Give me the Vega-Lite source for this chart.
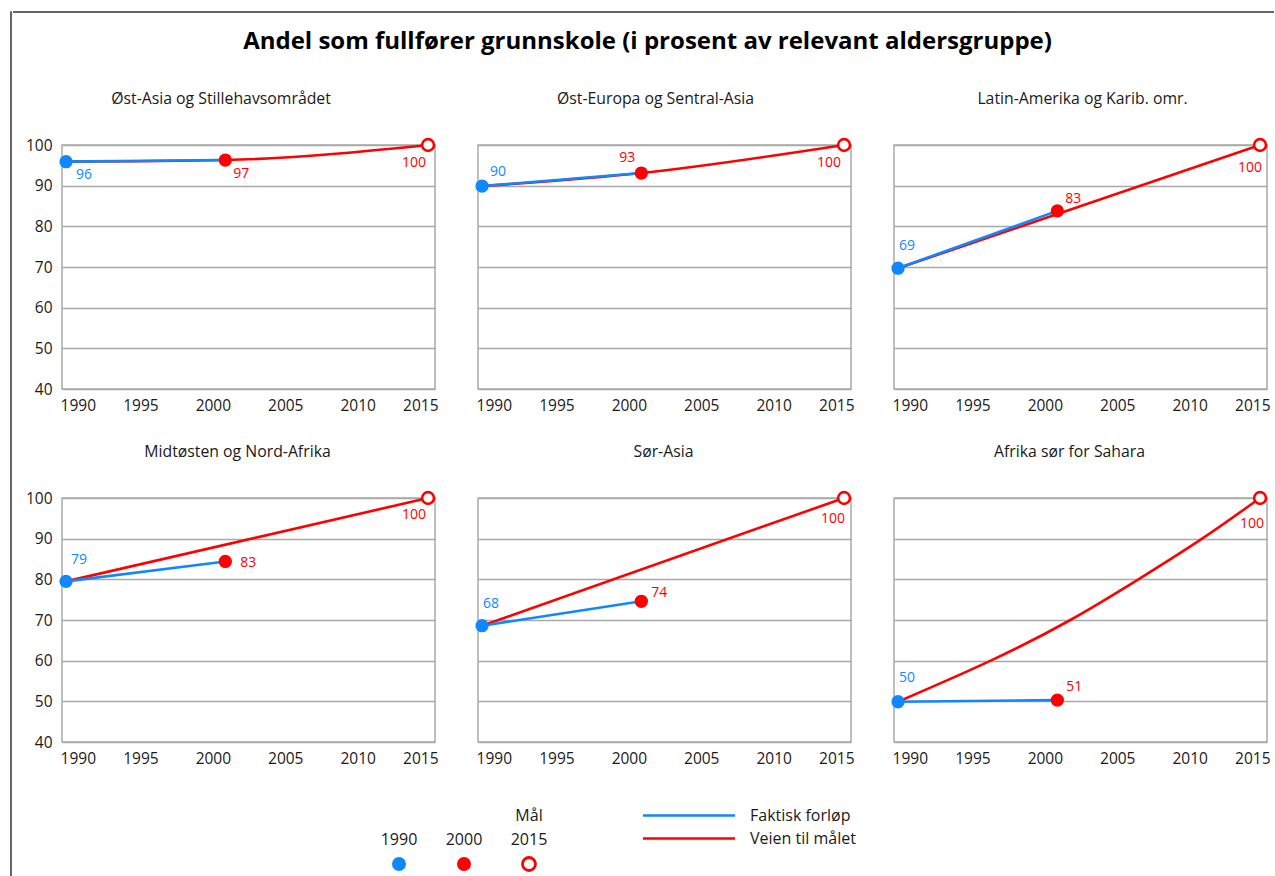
{
"$schema": "https://vega.github.io/schema/vega-lite/v6.json",
"background": "white",
"padding": {"left": 10, "top": 11, "right": 0, "bottom": 0},
"datasets": {
"punkter": [
{"region":"Øst-Asia og Stillehavsområdet","kind":"1990","year":1990,"v":95.9,"lab":"96"},
{"region":"Øst-Asia og Stillehavsområdet","kind":"2000","year":2001,"v":96.3,"lab":"97"},
{"region":"Øst-Asia og Stillehavsområdet","kind":"2015","year":2015,"v":100,"lab":"100"},
{"region":"Øst-Europa og Sentral-Asia","kind":"1990","year":1990,"v":89.9,"lab":"90"},
{"region":"Øst-Europa og Sentral-Asia","kind":"2000","year":2001,"v":93.1,"lab":"93"},
{"region":"Øst-Europa og Sentral-Asia","kind":"2015","year":2015,"v":100,"lab":"100"},
{"region":"Latin-Amerika og Karib. omr.","kind":"1990","year":1990,"v":69.7,"lab":"69"},
{"region":"Latin-Amerika og Karib. omr.","kind":"2000","year":2001,"v":83.8,"lab":"83"},
{"region":"Latin-Amerika og Karib. omr.","kind":"2015","year":2015,"v":100,"lab":"100"},
{"region":"Midtøsten og Nord-Afrika","kind":"1990","year":1990,"v":79.5,"lab":"79"},
{"region":"Midtøsten og Nord-Afrika","kind":"2000","year":2001,"v":84.4,"lab":"83"},
{"region":"Midtøsten og Nord-Afrika","kind":"2015","year":2015,"v":100,"lab":"100"},
{"region":"Sør-Asia","kind":"1990","year":1990,"v":68.6,"lab":"68"},
{"region":"Sør-Asia","kind":"2000","year":2001,"v":74.6,"lab":"74"},
{"region":"Sør-Asia","kind":"2015","year":2015,"v":100,"lab":"100"},
{"region":"Afrika sør for Sahara","kind":"1990","year":1990,"v":49.9,"lab":"50"},
{"region":"Afrika sør for Sahara","kind":"2000","year":2001,"v":50.3,"lab":"51"},
{"region":"Afrika sør for Sahara","kind":"2015","year":2015,"v":100,"lab":"100"}
],
"linjer": [
{"region":"Øst-Asia og Stillehavsområdet","serie":"Faktisk forløp","year":1990,"v":95.9},
{"region":"Øst-Asia og Stillehavsområdet","serie":"Faktisk forløp","year":2001,"v":96.3},
{"region":"Øst-Asia og Stillehavsområdet","serie":"Veien til målet","year":1990,"v":95.9},
{"region":"Øst-Asia og Stillehavsområdet","serie":"Veien til målet","year":2001,"v":96.3},
{"region":"Øst-Asia og Stillehavsområdet","serie":"Veien til målet","year":2015,"v":100},
{"region":"Øst-Europa og Sentral-Asia","serie":"Faktisk forløp","year":1990,"v":89.9},
{"region":"Øst-Europa og Sentral-Asia","serie":"Faktisk forløp","year":2001,"v":93.1},
{"region":"Øst-Europa og Sentral-Asia","serie":"Veien til målet","year":1990,"v":89.9},
{"region":"Øst-Europa og Sentral-Asia","serie":"Veien til målet","year":2001,"v":93.1},
{"region":"Øst-Europa og Sentral-Asia","serie":"Veien til målet","year":2015,"v":100},
{"region":"Latin-Amerika og Karib. omr.","serie":"Faktisk forløp","year":1990,"v":69.7},
{"region":"Latin-Amerika og Karib. omr.","serie":"Faktisk forløp","year":2001,"v":83.8},
{"region":"Latin-Amerika og Karib. omr.","serie":"Veien til målet","year":1990,"v":69.7},
{"region":"Latin-Amerika og Karib. omr.","serie":"Veien til målet","year":2015,"v":100},
{"region":"Midtøsten og Nord-Afrika","serie":"Faktisk forløp","year":1990,"v":79.5},
{"region":"Midtøsten og Nord-Afrika","serie":"Faktisk forløp","year":2001,"v":84.4},
{"region":"Midtøsten og Nord-Afrika","serie":"Veien til målet","year":1990,"v":79.5},
{"region":"Midtøsten og Nord-Afrika","serie":"Veien til målet","year":2015,"v":100},
{"region":"Sør-Asia","serie":"Faktisk forløp","year":1990,"v":68.6},
{"region":"Sør-Asia","serie":"Faktisk forløp","year":2001,"v":74.6},
{"region":"Sør-Asia","serie":"Veien til målet","year":1990,"v":68.6},
{"region":"Sør-Asia","serie":"Veien til målet","year":2015,"v":100},
{"region":"Afrika sør for Sahara","serie":"Faktisk forløp","year":1990,"v":49.9},
{"region":"Afrika sør for Sahara","serie":"Faktisk forløp","year":2001,"v":50.3},
{"region":"Afrika sør for Sahara","serie":"Veien til målet","year":1990,"v":49.9},
{"region":"Afrika sør for Sahara","serie":"Veien til målet","year":1996.4,"v":60},
{"region":"Afrika sør for Sahara","serie":"Veien til målet","year":2001.9,"v":70},
{"region":"Afrika sør for Sahara","serie":"Veien til målet","year":2006.6,"v":80},
{"region":"Afrika sør for Sahara","serie":"Veien til målet","year":2011,"v":90},
{"region":"Afrika sør for Sahara","serie":"Veien til målet","year":2015,"v":100}
],
"legpkt": [{"kind":"1990"},{"kind":"2000"},{"kind":"2015"}],
"serier": [{"serie":"Faktisk forløp"},{"serie":"Veien til målet"}]
},
"spacing": 0,
"hconcat": [
{"width": 0.01, "height": 864, "data": {"values": []}, "mark": {"type": "point", "opacity": 0}, "encoding": {}, "view": {"stroke": "#333333", "strokeWidth": 1.5}},
{"spacing": 35, "vconcat": [
{"spacing": 0, "vconcat": [
{"width": 1261, "height": 17, "data": {"values": []}, "mark": {"type": "point", "opacity": 0}, "encoding": {}, "view": {"stroke": "#333333", "strokeWidth": 1.5, "strokeDash": [1261, 5000]}},
{"width": 1261, "height": 0.01, "data": {"values": []}, "mark": {"type": "point", "opacity": 0}, "encoding": {}, "view": {"stroke": null},
 "title": {"text": "Andel som fullfører grunnskole (i prosent av relevant aldersgruppe)", "orient": "bottom", "fontSize": 24, "fontWeight": "bold", "color": "#000000", "offset": 0, "dx": 4}}
]},
{"spacing": 10, "hconcat": [
{"width": 0.01, "height": 0.01, "data": {"values": []}, "mark": {"type": "point", "opacity": 0}, "encoding": {}, "view": {"stroke": "#ffffff", "strokeWidth": 1}},
{"spacing": 36, "vconcat": [
{"spacing": 28, "vconcat": [
{"spacing": 34, "hconcat": [
{"width": 373, "height": 244, "title": {"text": "Øst-Asia og Stillehavsområdet", "dx": -27.5},
 "encoding": {"x": {"field": "year", "type": "quantitative", "scale": {"domain": [1989.72, 2015.48], "nice": false, "zero": false}, "axis": {"values": [1990,1995,2000,2005,2010,2015], "format": "d", "title": null}},
  "y": {"field": "v", "type": "quantitative", "scale": {"domain": [40, 100], "nice": false, "zero": false}, "axis": {"values": [40,50,60,70,80,90,100], "title": null, "labels": true}}},
 "layer": [
  {"data": {"name": "linjer"}, "transform": [{"filter": {"and": [{"field": "region", "equal": "Øst-Asia og Stillehavsområdet"}, {"field": "serie", "equal": "Veien til målet"}]}}], "mark": {"type": "line", "color": "#ff0000", "strokeWidth": 2.6, "interpolate": "monotone"}},
  {"data": {"name": "linjer"}, "transform": [{"filter": {"and": [{"field": "region", "equal": "Øst-Asia og Stillehavsområdet"}, {"field": "serie", "equal": "Faktisk forløp"}]}}], "mark": {"type": "line", "color": "#0f87ff", "strokeWidth": 2.6}},
  {"data": {"name": "punkter"}, "transform": [{"filter": {"and": [{"field": "region", "equal": "Øst-Asia og Stillehavsområdet"}, {"field": "kind", "oneOf": ["1990","2000"]}]}}], "mark": {"type": "point", "filled": true, "size": 177, "opacity": 1}, "encoding": {"color": {"field": "kind", "type": "nominal", "scale": {"domain": ["1990","2000","2015"], "range": ["#0f87ff","#ff0000","#ff0000"]}, "legend": null}}},
  {"data": {"name": "punkter"}, "transform": [{"filter": {"and": [{"field": "region", "equal": "Øst-Asia og Stillehavsområdet"}, {"field": "kind", "equal": "2015"}]}}], "mark": {"type": "point", "filled": true, "fill": "#ffffff", "stroke": "#ff0000", "strokeWidth": 2.6, "size": 140, "opacity": 1}},
  {"data": {"name": "punkter"}, "transform": [{"filter": {"and": [{"field": "region", "equal": "Øst-Asia og Stillehavsområdet"}, {"field": "kind", "equal": "1990"}]}}], "mark": {"type": "text", "dx": 18, "dy": 13, "color": "#0f87ff", "fontSize": 14}, "encoding": {"text": {"field": "lab"}}},
  {"data": {"name": "punkter"}, "transform": [{"filter": {"and": [{"field": "region", "equal": "Øst-Asia og Stillehavsområdet"}, {"field": "kind", "equal": "2000"}]}}], "mark": {"type": "text", "dx": 16, "dy": 14, "color": "#ff0000", "fontSize": 14}, "encoding": {"text": {"field": "lab"}}},
  {"data": {"name": "punkter"}, "transform": [{"filter": {"and": [{"field": "region", "equal": "Øst-Asia og Stillehavsområdet"}, {"field": "kind", "equal": "2015"}]}}], "mark": {"type": "text", "dx": -14, "dy": 18, "color": "#ff0000", "fontSize": 14}, "encoding": {"text": {"field": "lab"}}}
 ]},
{"width": 373, "height": 244, "title": {"text": "Øst-Europa og Sentral-Asia", "dx": -9},
 "encoding": {"x": {"field": "year", "type": "quantitative", "scale": {"domain": [1989.72, 2015.48], "nice": false, "zero": false}, "axis": {"values": [1990,1995,2000,2005,2010,2015], "format": "d", "title": null}},
  "y": {"field": "v", "type": "quantitative", "scale": {"domain": [40, 100], "nice": false, "zero": false}, "axis": {"values": [40,50,60,70,80,90,100], "title": null, "labels": false}}},
 "layer": [
  {"data": {"name": "linjer"}, "transform": [{"filter": {"and": [{"field": "region", "equal": "Øst-Europa og Sentral-Asia"}, {"field": "serie", "equal": "Veien til målet"}]}}], "mark": {"type": "line", "color": "#ff0000", "strokeWidth": 2.6, "interpolate": "monotone"}},
  {"data": {"name": "linjer"}, "transform": [{"filter": {"and": [{"field": "region", "equal": "Øst-Europa og Sentral-Asia"}, {"field": "serie", "equal": "Faktisk forløp"}]}}], "mark": {"type": "line", "color": "#0f87ff", "strokeWidth": 2.6}},
  {"data": {"name": "punkter"}, "transform": [{"filter": {"and": [{"field": "region", "equal": "Øst-Europa og Sentral-Asia"}, {"field": "kind", "oneOf": ["1990","2000"]}]}}], "mark": {"type": "point", "filled": true, "size": 177, "opacity": 1}, "encoding": {"color": {"field": "kind", "type": "nominal", "scale": {"domain": ["1990","2000","2015"], "range": ["#0f87ff","#ff0000","#ff0000"]}, "legend": null}}},
  {"data": {"name": "punkter"}, "transform": [{"filter": {"and": [{"field": "region", "equal": "Øst-Europa og Sentral-Asia"}, {"field": "kind", "equal": "2015"}]}}], "mark": {"type": "point", "filled": true, "fill": "#ffffff", "stroke": "#ff0000", "strokeWidth": 2.6, "size": 140, "opacity": 1}},
  {"data": {"name": "punkter"}, "transform": [{"filter": {"and": [{"field": "region", "equal": "Øst-Europa og Sentral-Asia"}, {"field": "kind", "equal": "1990"}]}}], "mark": {"type": "text", "dx": 16, "dy": -14, "color": "#0f87ff", "fontSize": 14}, "encoding": {"text": {"field": "lab"}}},
  {"data": {"name": "punkter"}, "transform": [{"filter": {"and": [{"field": "region", "equal": "Øst-Europa og Sentral-Asia"}, {"field": "kind", "equal": "2000"}]}}], "mark": {"type": "text", "dx": -14, "dy": -15, "color": "#ff0000", "fontSize": 14}, "encoding": {"text": {"field": "lab"}}},
  {"data": {"name": "punkter"}, "transform": [{"filter": {"and": [{"field": "region", "equal": "Øst-Europa og Sentral-Asia"}, {"field": "kind", "equal": "2015"}]}}], "mark": {"type": "text", "dx": -15, "dy": 18, "color": "#ff0000", "fontSize": 14}, "encoding": {"text": {"field": "lab"}}}
 ]},
{"width": 373, "height": 244, "title": {"text": "Latin-Amerika og Karib. omr.", "dx": 2},
 "encoding": {"x": {"field": "year", "type": "quantitative", "scale": {"domain": [1989.72, 2015.48], "nice": false, "zero": false}, "axis": {"values": [1990,1995,2000,2005,2010,2015], "format": "d", "title": null}},
  "y": {"field": "v", "type": "quantitative", "scale": {"domain": [40, 100], "nice": false, "zero": false}, "axis": {"values": [40,50,60,70,80,90,100], "title": null, "labels": false}}},
 "layer": [
  {"data": {"name": "linjer"}, "transform": [{"filter": {"and": [{"field": "region", "equal": "Latin-Amerika og Karib. omr."}, {"field": "serie", "equal": "Veien til målet"}]}}], "mark": {"type": "line", "color": "#ff0000", "strokeWidth": 2.6, "interpolate": "monotone"}},
  {"data": {"name": "linjer"}, "transform": [{"filter": {"and": [{"field": "region", "equal": "Latin-Amerika og Karib. omr."}, {"field": "serie", "equal": "Faktisk forløp"}]}}], "mark": {"type": "line", "color": "#0f87ff", "strokeWidth": 2.6}},
  {"data": {"name": "punkter"}, "transform": [{"filter": {"and": [{"field": "region", "equal": "Latin-Amerika og Karib. omr."}, {"field": "kind", "oneOf": ["1990","2000"]}]}}], "mark": {"type": "point", "filled": true, "size": 177, "opacity": 1}, "encoding": {"color": {"field": "kind", "type": "nominal", "scale": {"domain": ["1990","2000","2015"], "range": ["#0f87ff","#ff0000","#ff0000"]}, "legend": null}}},
  {"data": {"name": "punkter"}, "transform": [{"filter": {"and": [{"field": "region", "equal": "Latin-Amerika og Karib. omr."}, {"field": "kind", "equal": "2015"}]}}], "mark": {"type": "point", "filled": true, "fill": "#ffffff", "stroke": "#ff0000", "strokeWidth": 2.6, "size": 140, "opacity": 1}},
  {"data": {"name": "punkter"}, "transform": [{"filter": {"and": [{"field": "region", "equal": "Latin-Amerika og Karib. omr."}, {"field": "kind", "equal": "1990"}]}}], "mark": {"type": "text", "dx": 9, "dy": -22, "color": "#0f87ff", "fontSize": 14}, "encoding": {"text": {"field": "lab"}}},
  {"data": {"name": "punkter"}, "transform": [{"filter": {"and": [{"field": "region", "equal": "Latin-Amerika og Karib. omr."}, {"field": "kind", "equal": "2000"}]}}], "mark": {"type": "text", "dx": 16, "dy": -12, "color": "#ff0000", "fontSize": 14}, "encoding": {"text": {"field": "lab"}}},
  {"data": {"name": "punkter"}, "transform": [{"filter": {"and": [{"field": "region", "equal": "Latin-Amerika og Karib. omr."}, {"field": "kind", "equal": "2015"}]}}], "mark": {"type": "text", "dx": -10, "dy": 23, "color": "#ff0000", "fontSize": 14}, "encoding": {"text": {"field": "lab"}}}
 ]}
]},
{"spacing": 34, "hconcat": [
{"width": 373, "height": 244, "title": {"text": "Midtøsten og Nord-Afrika", "dx": -11},
 "encoding": {"x": {"field": "year", "type": "quantitative", "scale": {"domain": [1989.72, 2015.48], "nice": false, "zero": false}, "axis": {"values": [1990,1995,2000,2005,2010,2015], "format": "d", "title": null}},
  "y": {"field": "v", "type": "quantitative", "scale": {"domain": [40, 100], "nice": false, "zero": false}, "axis": {"values": [40,50,60,70,80,90,100], "title": null, "labels": true}}},
 "layer": [
  {"data": {"name": "linjer"}, "transform": [{"filter": {"and": [{"field": "region", "equal": "Midtøsten og Nord-Afrika"}, {"field": "serie", "equal": "Veien til målet"}]}}], "mark": {"type": "line", "color": "#ff0000", "strokeWidth": 2.6, "interpolate": "monotone"}},
  {"data": {"name": "linjer"}, "transform": [{"filter": {"and": [{"field": "region", "equal": "Midtøsten og Nord-Afrika"}, {"field": "serie", "equal": "Faktisk forløp"}]}}], "mark": {"type": "line", "color": "#0f87ff", "strokeWidth": 2.6}},
  {"data": {"name": "punkter"}, "transform": [{"filter": {"and": [{"field": "region", "equal": "Midtøsten og Nord-Afrika"}, {"field": "kind", "oneOf": ["1990","2000"]}]}}], "mark": {"type": "point", "filled": true, "size": 177, "opacity": 1}, "encoding": {"color": {"field": "kind", "type": "nominal", "scale": {"domain": ["1990","2000","2015"], "range": ["#0f87ff","#ff0000","#ff0000"]}, "legend": null}}},
  {"data": {"name": "punkter"}, "transform": [{"filter": {"and": [{"field": "region", "equal": "Midtøsten og Nord-Afrika"}, {"field": "kind", "equal": "2015"}]}}], "mark": {"type": "point", "filled": true, "fill": "#ffffff", "stroke": "#ff0000", "strokeWidth": 2.6, "size": 140, "opacity": 1}},
  {"data": {"name": "punkter"}, "transform": [{"filter": {"and": [{"field": "region", "equal": "Midtøsten og Nord-Afrika"}, {"field": "kind", "equal": "1990"}]}}], "mark": {"type": "text", "dx": 13, "dy": -21, "color": "#0f87ff", "fontSize": 14}, "encoding": {"text": {"field": "lab"}}},
  {"data": {"name": "punkter"}, "transform": [{"filter": {"and": [{"field": "region", "equal": "Midtøsten og Nord-Afrika"}, {"field": "kind", "equal": "2000"}]}}], "mark": {"type": "text", "dx": 23, "dy": 2, "color": "#ff0000", "fontSize": 14}, "encoding": {"text": {"field": "lab"}}},
  {"data": {"name": "punkter"}, "transform": [{"filter": {"and": [{"field": "region", "equal": "Midtøsten og Nord-Afrika"}, {"field": "kind", "equal": "2015"}]}}], "mark": {"type": "text", "dx": -14, "dy": 17, "color": "#ff0000", "fontSize": 14}, "encoding": {"text": {"field": "lab"}}}
 ]},
{"width": 373, "height": 244, "title": {"text": "Sør-Asia", "dx": -1},
 "encoding": {"x": {"field": "year", "type": "quantitative", "scale": {"domain": [1989.72, 2015.48], "nice": false, "zero": false}, "axis": {"values": [1990,1995,2000,2005,2010,2015], "format": "d", "title": null}},
  "y": {"field": "v", "type": "quantitative", "scale": {"domain": [40, 100], "nice": false, "zero": false}, "axis": {"values": [40,50,60,70,80,90,100], "title": null, "labels": false}}},
 "layer": [
  {"data": {"name": "linjer"}, "transform": [{"filter": {"and": [{"field": "region", "equal": "Sør-Asia"}, {"field": "serie", "equal": "Veien til målet"}]}}], "mark": {"type": "line", "color": "#ff0000", "strokeWidth": 2.6, "interpolate": "monotone"}},
  {"data": {"name": "linjer"}, "transform": [{"filter": {"and": [{"field": "region", "equal": "Sør-Asia"}, {"field": "serie", "equal": "Faktisk forløp"}]}}], "mark": {"type": "line", "color": "#0f87ff", "strokeWidth": 2.6}},
  {"data": {"name": "punkter"}, "transform": [{"filter": {"and": [{"field": "region", "equal": "Sør-Asia"}, {"field": "kind", "oneOf": ["1990","2000"]}]}}], "mark": {"type": "point", "filled": true, "size": 177, "opacity": 1}, "encoding": {"color": {"field": "kind", "type": "nominal", "scale": {"domain": ["1990","2000","2015"], "range": ["#0f87ff","#ff0000","#ff0000"]}, "legend": null}}},
  {"data": {"name": "punkter"}, "transform": [{"filter": {"and": [{"field": "region", "equal": "Sør-Asia"}, {"field": "kind", "equal": "2015"}]}}], "mark": {"type": "point", "filled": true, "fill": "#ffffff", "stroke": "#ff0000", "strokeWidth": 2.6, "size": 140, "opacity": 1}},
  {"data": {"name": "punkter"}, "transform": [{"filter": {"and": [{"field": "region", "equal": "Sør-Asia"}, {"field": "kind", "equal": "1990"}]}}], "mark": {"type": "text", "dx": 9, "dy": -22, "color": "#0f87ff", "fontSize": 14}, "encoding": {"text": {"field": "lab"}}},
  {"data": {"name": "punkter"}, "transform": [{"filter": {"and": [{"field": "region", "equal": "Sør-Asia"}, {"field": "kind", "equal": "2000"}]}}], "mark": {"type": "text", "dx": 18, "dy": -8, "color": "#ff0000", "fontSize": 14}, "encoding": {"text": {"field": "lab"}}},
  {"data": {"name": "punkter"}, "transform": [{"filter": {"and": [{"field": "region", "equal": "Sør-Asia"}, {"field": "kind", "equal": "2015"}]}}], "mark": {"type": "text", "dx": -11, "dy": 21, "color": "#ff0000", "fontSize": 14}, "encoding": {"text": {"field": "lab"}}}
 ]},
{"width": 373, "height": 244, "title": {"text": "Afrika sør for Sahara", "dx": -11},
 "encoding": {"x": {"field": "year", "type": "quantitative", "scale": {"domain": [1989.72, 2015.48], "nice": false, "zero": false}, "axis": {"values": [1990,1995,2000,2005,2010,2015], "format": "d", "title": null}},
  "y": {"field": "v", "type": "quantitative", "scale": {"domain": [40, 100], "nice": false, "zero": false}, "axis": {"values": [40,50,60,70,80,90,100], "title": null, "labels": false}}},
 "layer": [
  {"data": {"name": "linjer"}, "transform": [{"filter": {"and": [{"field": "region", "equal": "Afrika sør for Sahara"}, {"field": "serie", "equal": "Veien til målet"}]}}], "mark": {"type": "line", "color": "#ff0000", "strokeWidth": 2.6, "interpolate": "natural"}},
  {"data": {"name": "linjer"}, "transform": [{"filter": {"and": [{"field": "region", "equal": "Afrika sør for Sahara"}, {"field": "serie", "equal": "Faktisk forløp"}]}}], "mark": {"type": "line", "color": "#0f87ff", "strokeWidth": 2.6}},
  {"data": {"name": "punkter"}, "transform": [{"filter": {"and": [{"field": "region", "equal": "Afrika sør for Sahara"}, {"field": "kind", "oneOf": ["1990","2000"]}]}}], "mark": {"type": "point", "filled": true, "size": 177, "opacity": 1}, "encoding": {"color": {"field": "kind", "type": "nominal", "scale": {"domain": ["1990","2000","2015"], "range": ["#0f87ff","#ff0000","#ff0000"]}, "legend": null}}},
  {"data": {"name": "punkter"}, "transform": [{"filter": {"and": [{"field": "region", "equal": "Afrika sør for Sahara"}, {"field": "kind", "equal": "2015"}]}}], "mark": {"type": "point", "filled": true, "fill": "#ffffff", "stroke": "#ff0000", "strokeWidth": 2.6, "size": 140, "opacity": 1}},
  {"data": {"name": "punkter"}, "transform": [{"filter": {"and": [{"field": "region", "equal": "Afrika sør for Sahara"}, {"field": "kind", "equal": "1990"}]}}], "mark": {"type": "text", "dx": 9, "dy": -24, "color": "#0f87ff", "fontSize": 14}, "encoding": {"text": {"field": "lab"}}},
  {"data": {"name": "punkter"}, "transform": [{"filter": {"and": [{"field": "region", "equal": "Afrika sør for Sahara"}, {"field": "kind", "equal": "2000"}]}}], "mark": {"type": "text", "dx": 17, "dy": -13, "color": "#ff0000", "fontSize": 14}, "encoding": {"text": {"field": "lab"}}},
  {"data": {"name": "punkter"}, "transform": [{"filter": {"and": [{"field": "region", "equal": "Afrika sør for Sahara"}, {"field": "kind", "equal": "2015"}]}}], "mark": {"type": "text", "dx": -8, "dy": 26, "color": "#ff0000", "fontSize": 14}, "encoding": {"text": {"field": "lab"}}}
 ]}
]}
]},
{"spacing": 79, "hconcat": [
{"width": 500, "height": 72, "view": {"stroke": null}, "data": {"name": "legpkt"},
 "encoding": {"x": {"field": "kind", "type": "nominal", "scale": {"type": "point", "domain": ["1990","2000","2015"], "range": [337, 467], "padding": 0}, "axis": null}},
 "layer": [
  {"mark": {"type": "text", "fontSize": 16, "color": "#1a1a1a"}, "encoding": {"y": {"datum": "aar", "type": "nominal", "scale": {"type": "point", "domain": ["mal","aar","sym"], "padding": 0.5}, "axis": null}, "text": {"field": "kind"}}},
  {"transform": [{"filter": {"field": "kind", "equal": "2015"}}], "mark": {"type": "text", "fontSize": 16, "color": "#1a1a1a"}, "encoding": {"y": {"datum": "mal", "type": "nominal"}, "text": {"value": "Mål"}}},
  {"transform": [{"filter": {"field": "kind", "oneOf": ["1990","2000"]}}], "mark": {"type": "point", "filled": true, "size": 196, "opacity": 1}, "encoding": {"y": {"datum": "sym", "type": "nominal"}, "color": {"field": "kind", "type": "nominal", "scale": {"domain": ["1990","2000","2015"], "range": ["#0f87ff","#ff0000","#ff0000"]}, "legend": null}}},
  {"transform": [{"filter": {"field": "kind", "equal": "2015"}}], "mark": {"type": "point", "filled": true, "fill": "#ffffff", "stroke": "#ff0000", "strokeWidth": 2.8, "size": 170, "opacity": 1}, "encoding": {"y": {"datum": "sym", "type": "nominal"}}}
 ]},
{"width": 285, "height": 46, "view": {"stroke": null}, "data": {"name": "serier"},
 "encoding": {"y": {"field": "serie", "type": "nominal", "scale": {"type": "point", "domain": ["Faktisk forløp","Veien til målet"], "padding": 0.5}, "axis": null}},
 "layer": [
  {"mark": {"type": "rule", "strokeWidth": 2.6}, "encoding": {"x": {"datum": 0, "type": "quantitative", "scale": {"domain": [0, 3.098], "nice": false, "zero": false}, "axis": null}, "x2": {"datum": 1}, "stroke": {"field": "serie", "type": "nominal", "scale": {"domain": ["Faktisk forløp","Veien til målet"], "range": ["#0f87ff","#ff0000"]}, "legend": null}}},
  {"mark": {"type": "text", "align": "left", "dx": 15, "fontSize": 16, "color": "#1a1a1a"}, "encoding": {"x": {"datum": 1, "type": "quantitative"}, "text": {"field": "serie"}}}
 ]}
]}
]}
]}
]}
],
"config": {
 "font": "Open Sans",
 "view": {"stroke": "#a9a9a9", "strokeWidth": 1.5},
 "axis": {"domain": false, "ticks": false, "tickSize": 0, "labelFont": "Open Sans", "labelFontSize": 15.5, "labelColor": "#1a1a1a"},
 "axisX": {"grid": false, "labelPadding": 9, "labelFlush": 10, "labelFlushOffset": 8, "labelOffset": 2},
 "axisY": {"grid": true, "gridColor": "#a9a9a9", "gridWidth": 1.5, "labelPadding": 10},
 "title": {"font": "Open Sans", "fontSize": 15.8, "fontWeight": "normal", "color": "#1a1a1a", "anchor": "middle", "frame": "group", "offset": 26},
 "text": {"font": "Open Sans"}
}
}
